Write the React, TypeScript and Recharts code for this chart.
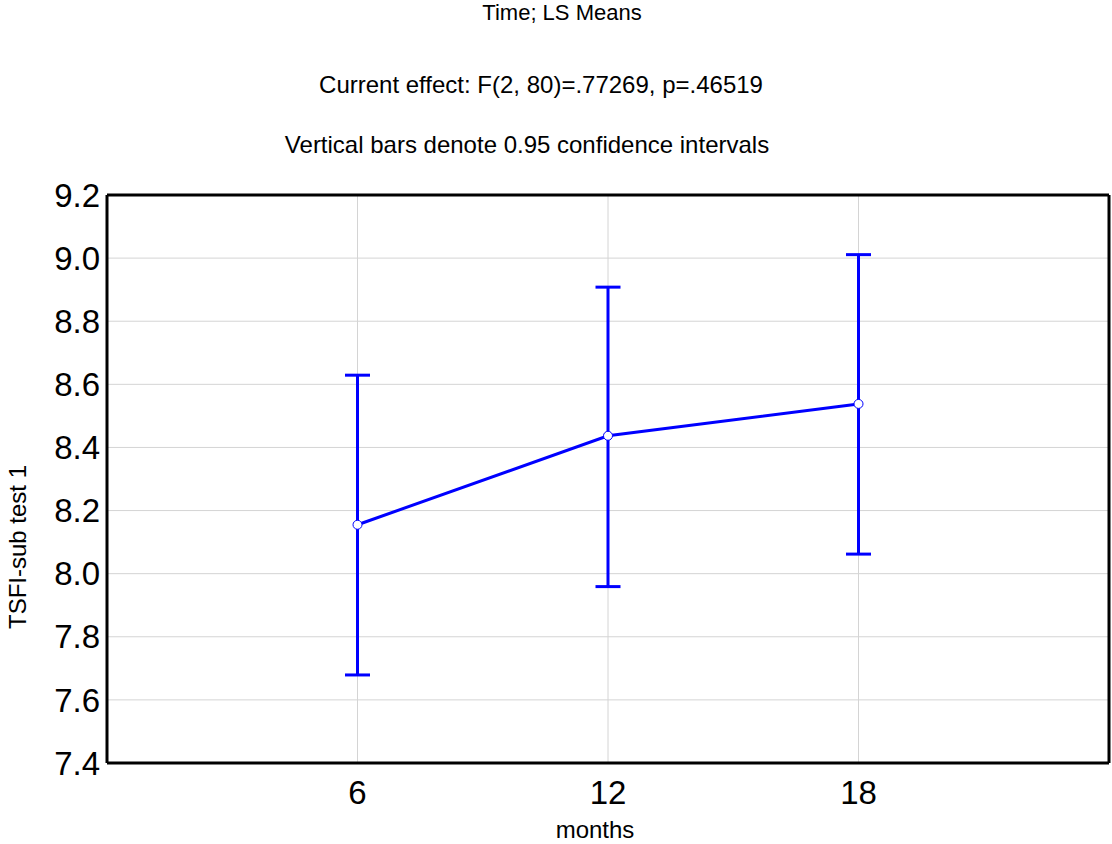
import { ComposedChart, Line, ErrorBar, XAxis, YAxis, CartesianGrid } from "recharts";

// LS means for each time point, with 0.95 confidence limits
const months = [6, 12, 18];
const means = [8.155, 8.437, 8.538];
const lower = [7.679, 7.959, 8.062];
const upper = [8.629, 8.908, 9.011];

const yTicks = [7.4, 7.6, 7.8, 8.0, 8.2, 8.4, 8.6, 8.8, 9.0, 9.2];
const xTicks = [6, 12, 18];

const titleLines = [
  { text: "Time; LS Means", top: 2, center: 562, size: 22 },
  { text: "Current effect: F(2, 80)=.77269, p=.46519", top: 73, center: 541, size: 24 },
  { text: "Vertical bars denote 0.95 confidence intervals", top: 133, center: 527, size: 24 },
];

const data = months.map((m, i) => ({
  month: m,
  mean: means[i],
  err: [means[i] - lower[i], upper[i] - means[i]],
}));

const FONT = "'Liberation Sans', Arial, sans-serif";
const BLUE = "#0000ff";

export default function App() {
  return (
    <div style={{ position: "absolute", left: 0, top: 0, width: 1112, height: 844, background: "#fff", fontFamily: FONT }}>
      {titleLines.map((t) => (
        <div
          key={t.text}
          style={{
            position: "absolute",
            top: t.top,
            left: t.center,
            transform: "translateX(-50%)",
            whiteSpace: "nowrap",
            fontSize: t.size,
            lineHeight: `${t.size}px`,
            color: "#000",
          }}
        >
          {t.text}
        </div>
      ))}

      <ComposedChart
        width={1112}
        height={844}
        data={data}
        margin={{ top: 195, right: 3, bottom: 31, left: 0 }}
      >
        <CartesianGrid stroke="#d4d4d4" strokeWidth={1} />
        <XAxis
          dataKey="month"
          type="number"
          domain={[0, 24]}
          ticks={xTicks}
          height={50}
          tickLine={false}
          tickSize={6}
          tickMargin={12}
          axisLine={{ stroke: "#000", strokeWidth: 3 }}
          tick={{ fontSize: 33, fill: "#000", fontFamily: FONT }}
        />
        <XAxis
          xAxisId="bottomTicks"
          dataKey="month"
          type="number"
          domain={[0, 24]}
          ticks={xTicks}
          orientation="bottom"
          mirror
          tick={false}
          axisLine={false}
          tickSize={5}
          tickLine={{ stroke: "#000", strokeWidth: 3 }}
        />
        <XAxis
          xAxisId="top"
          dataKey="month"
          type="number"
          domain={[0, 24]}
          ticks={xTicks}
          orientation="top"
          mirror
          tick={false}
          tickSize={5}
          axisLine={{ stroke: "#000", strokeWidth: 3 }}
          tickLine={{ stroke: "#000", strokeWidth: 3 }}
        />
        <YAxis
          type="number"
          domain={[7.4, 9.2]}
          ticks={yTicks}
          width={107}
          tickLine={false}
          tickSize={2}
          tickMargin={5}
          tickFormatter={(v: number) => v.toFixed(1)}
          axisLine={{ stroke: "#000", strokeWidth: 3 }}
          tick={{ fontSize: 33, fill: "#000", fontFamily: FONT }}
        />
        <YAxis
          yAxisId="leftTicks"
          type="number"
          domain={[7.4, 9.2]}
          ticks={yTicks}
          orientation="left"
          mirror
          tick={false}
          axisLine={false}
          tickSize={5}
          tickLine={{ stroke: "#000", strokeWidth: 3 }}
        />
        <YAxis
          yAxisId="right"
          type="number"
          domain={[7.4, 9.2]}
          ticks={yTicks}
          orientation="right"
          mirror
          tick={false}
          tickSize={5}
          axisLine={{ stroke: "#000", strokeWidth: 3 }}
          tickLine={{ stroke: "#000", strokeWidth: 3 }}
        />
        <Line
          dataKey="mean"
          type="linear"
          stroke={BLUE}
          strokeWidth={3}
          dot={{ r: 4.5, fill: "#fff", stroke: BLUE, strokeWidth: 1 }}
          isAnimationActive={false}
        >
          <ErrorBar dataKey="err" direction="y" width={12.5} stroke={BLUE} strokeWidth={3} isAnimationActive={false} />
        </Line>
      </ComposedChart>

      <div
        style={{
          position: "absolute",
          left: 18,
          top: 547,
          transform: "translate(-50%, -50%) rotate(-90deg)",
          whiteSpace: "nowrap",
          fontSize: 24,
          lineHeight: "24px",
          color: "#000",
        }}
      >
        TSFI-sub test 1
      </div>
      <div
        style={{
          position: "absolute",
          left: 595,
          top: 818,
          transform: "translateX(-50%)",
          whiteSpace: "nowrap",
          fontSize: 24,
          lineHeight: "24px",
          color: "#000",
        }}
      >
        months
      </div>
    </div>
  );
}
